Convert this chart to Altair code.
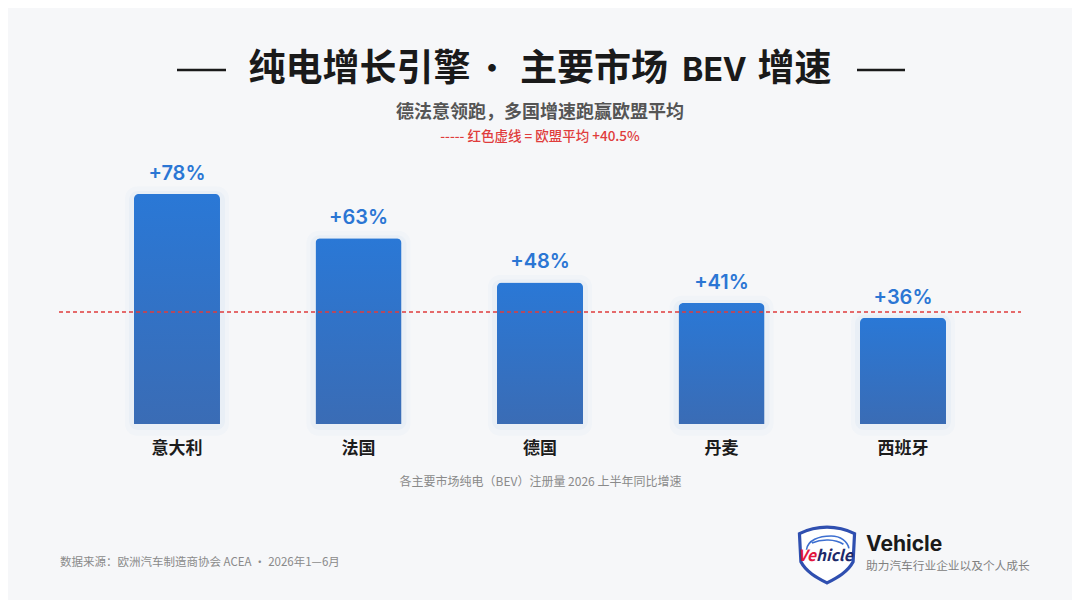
import altair as alt
import pandas as pd

# ---------------- data ----------------
countries = ["意大利", "法国", "德国", "丹麦", "西班牙"]
growth = [78, 63, 48, 41, 36]
growth_labels = ["+78%", "+63%", "+48%", "+41%", "+36%"]
eu_avg_line = [38]          # where the red dashed line sits in the picture
eu_avg_label = "+40.5%"

title_parts = ["纯电增长引擎", "·", "主要市场", "BEV", "增速"]
subtitle_text = ["德法意领跑，多国增速跑赢欧盟平均"]
legend_text = ["-----  红色虚线 = 欧盟平均 " + eu_avg_label]
axis_title = "各主要市场纯电（BEV）注册量 2026 上半年同比增速"
source_text = ["数据来源：欧洲汽车制造商协会 ACEA · 2026年1—6月"]
brand_name = ["Vehicle"]
brand_slogan = ["助力汽车行业企业以及个人成长"]

FONT = "Noto Sans CJK SC"
W, H = 962, 265.5
BG = "#f6f7f9"

df = pd.DataFrame({"country": countries, "growth": growth, "label": growth_labels})
avg_df = pd.DataFrame({"avg": eu_avg_line})

xscale = alt.Scale(domain=countries, paddingInner=0.526, paddingOuter=0.413)
yscale = alt.Scale(domain=[0, 90])

xenc = alt.X(
    "country:N",
    scale=xscale,
    sort=None,
    axis=alt.Axis(
        title=axis_title,
        labelAngle=0,
        labelFontSize=17,
        labelFontWeight="bold",
        labelColor="#1c1c1c",
        labelFont=FONT,
        labelPadding=16,
        ticks=False,
        domain=False,
        grid=False,
        titleFont=FONT,
        titleFontSize=12,
        titleFontWeight="normal",
        titleColor="#8a8a8a",
        titlePadding=20,
    ),
)

base = alt.Chart(df)

shadow2 = base.transform_calculate(top="datum.growth + 2.5", bot="-4").mark_bar(
    width=104, color="#2b78d8", opacity=0.025, cornerRadius=12
).encode(x=xenc, y=alt.Y("top:Q", scale=yscale, axis=None), y2="bot:Q")

shadow1 = base.transform_calculate(top="datum.growth + 1", bot="-2").mark_bar(
    width=96, color="#2b78d8", opacity=0.04, cornerRadius=9
).encode(x=xenc, y=alt.Y("top:Q", scale=yscale, axis=None), y2="bot:Q")

grad = alt.Gradient(
    gradient="linear",
    stops=[alt.GradientStop(color="#2a78d6", offset=0),
           alt.GradientStop(color="#3a6cb5", offset=1)],
    x1=0, x2=0, y1=0, y2=1,
)

bars = base.mark_bar(
    color=grad, cornerRadiusTopLeft=5, cornerRadiusTopRight=5
).encode(x=xenc, y=alt.Y("growth:Q", scale=yscale, axis=None))

values = base.mark_text(
    font="Inter", fontSize=20, fontWeight=600, color="#2b76d4", dy=-20, baseline="middle"
).encode(x=xenc, y=alt.Y("growth:Q", scale=yscale, axis=None), text="label:N")

avg_rule = alt.Chart(avg_df).mark_rule(
    color="#e03c3c", strokeDash=[4, 3], strokeWidth=1.5
).encode(y=alt.Y("avg:Q", scale=yscale, axis=None), x=alt.value(0), x2=alt.value(W))

def txt(data, x, y, size, color, weight="normal", align="center", font=FONT, style=None):
    kw = dict(font=font, fontSize=size, color=color, fontWeight=weight,
              align=align, baseline="middle")
    if style:
        kw["fontStyle"] = style
    return alt.Chart(pd.DataFrame({"t": data})).mark_text(**kw).encode(
        text="t:N", x=alt.value(x), y=alt.value(y))

TY = -88.5
title_layers = [
    txt([title_parts[0]], 300.5, TY, 37, "#1a1a1a", "bold"),
    txt([title_parts[1]], 433, TY, 30, "#1a1a1a", "bold"),
    txt([title_parts[2]], 535, TY, 37, "#1a1a1a", "bold"),
    txt([title_parts[3]], 655.5, TY + 1, 32, "#1a1a1a", "bold", font="Inter"),
    txt([title_parts[4]], 735.5, TY, 37, "#1a1a1a", "bold"),
]

def hline(x1, x2, y):
    return alt.Chart(pd.DataFrame({"k": [1]})).mark_rule(
        color="#1a1a1a", strokeWidth=2.6
    ).encode(x=alt.value(x1), x2=alt.value(x2), y=alt.value(y))

dash_left = hline(118, 167, TY)
dash_right = hline(798, 846, TY)

subtitle = txt(subtitle_text, W / 2, -45.5, 18, "#555555", "bold")
legend = txt(legend_text, W / 2, -21.5, 13.5, "#e03c3c", 500)
source = txt(source_text, 1, 404.5, 11.5, "#8a8a8a", align="left")
brand = txt(brand_name, 807, 386.5, 21, "#1a1a1a", "bold", align="left", font="Inter")
slogan = txt(brand_slogan, 807, 407.5, 11.7, "#808080", align="left")

shield_path = ("M -0.95 -0.72 C -0.35 -1.02 0.35 -1.02 0.95 -0.72 L 0.9 0.25 "
               "C 0.72 0.6 0.35 0.8 0 0.98 C -0.35 0.8 -0.72 0.6 -0.9 0.25 Z")
car_path = ("M -0.75 -0.1 C -0.7 -0.45 -0.3 -0.6 0.15 -0.6 C 0.5 -0.6 0.75 -0.4 0.8 -0.15 "
            "M -0.55 -0.35 C -0.2 -0.5 0.3 -0.5 0.6 -0.3")
logo_df = pd.DataFrame({"k": [1]})
shield = alt.Chart(logo_df).mark_point(
    shape=shield_path, size=3364, filled=True, fill="#ffffff", stroke="#2f4fb0",
    strokeWidth=3.2, opacity=1
).encode(x=alt.value(768), y=alt.value(396))
car = alt.Chart(logo_df).mark_point(
    shape=car_path, size=3000, filled=False, stroke="#3d6fd0", strokeWidth=1.6, opacity=1
).encode(x=alt.value(768), y=alt.value(394))
logo_ve = txt(["Ve"], 757, 397, 15.5, "#e3173e", "bold", align="right", style="italic")
logo_hicle = txt(["hicle"], 757, 397, 15.5, "#1d2a6a", "bold", align="left", style="italic")

chart = alt.layer(
    shadow2, shadow1, bars, values, avg_rule,
    *title_layers, dash_left, dash_right, subtitle, legend, source,
    shield, car, logo_ve, logo_hicle, brand, slogan,
).properties(
    width=W, height=H,
    background=BG,
    padding={"left": 51, "top": 150.5, "right": 51, "bottom": 176},
    autosize=alt.AutoSizeParams(type="none"),
).configure_view(stroke=None)

chart.save("out.html", embed_options={"renderer": "svg", "actions": False})
